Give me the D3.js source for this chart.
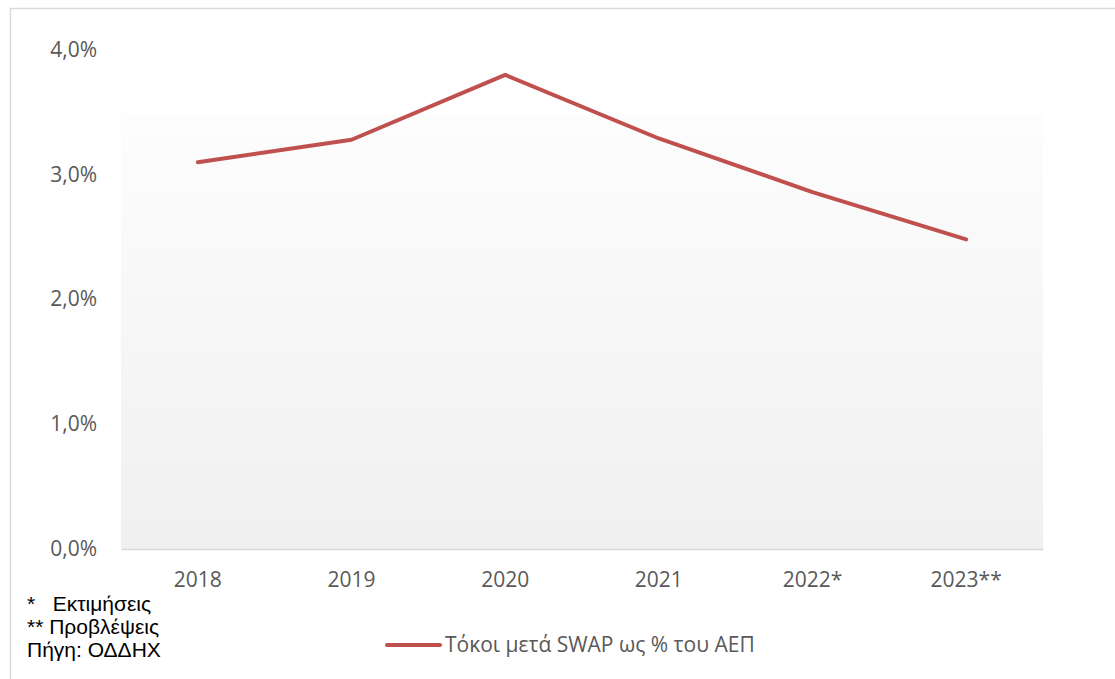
<!DOCTYPE html>
<html>
<head>
<meta charset="utf-8">
<script src="https://cdn.jsdelivr.net/npm/d3@7"></script>
<style>
  html, body { margin: 0; padding: 0; background: #fff; }
  svg { display: block; }
</style>
</head>
<body>
<svg id="chart" width="1115" height="679"></svg>
<script>
// Interest after swaps as a share of GDP
const years = ["2018", "2019", "2020", "2021", "2022*", "2023**"];
const interestPct = [3.10, 3.28, 3.80, 3.29, 2.86, 2.48];
const yTicks = [0, 1, 2, 3, 4];
const seriesName = "Τόκοι μετά SWAP ως % του ΑΕΠ";
const notes = ["*   Εκτιμήσεις", "** Προβλέψεις", "Πήγη: ΟΔΔΗΧ"];

const svg = d3.select("#chart");
const W = 1115, H = 679;

// outer frame
svg.append("rect")
  .attr("x", 10.5).attr("y", 8.5)
  .attr("width", W + 20).attr("height", H + 20)
  .attr("fill", "#fff").attr("stroke", "#d9d9d9").attr("stroke-width", 1.5);

const plot = { left: 121, right: 1043, top: 114, bottom: 549 };

const x = d3.scaleBand().domain(years).range([plot.left, plot.right]);
const y = d3.scaleLinear().domain([0, 4]).range([548.5, 50]);

// soft vertical gradient behind the plot area
const defs = svg.append("defs");
const grad = defs.append("linearGradient")
  .attr("id", "plotBg").attr("x1", 0).attr("y1", 0).attr("x2", 0).attr("y2", 1);
grad.append("stop").attr("offset", "0%").attr("stop-color", "#fdfdfd");
grad.append("stop").attr("offset", "100%").attr("stop-color", "#f0f0f0");

svg.append("rect")
  .attr("x", plot.left).attr("y", plot.top)
  .attr("width", plot.right - plot.left).attr("height", plot.bottom - plot.top)
  .attr("fill", "url(#plotBg)");

// y axis labels
const yAxis = d3.axisLeft(y)
  .tickValues(yTicks)
  .tickSize(0)
  .tickPadding(0)
  .tickFormat(d => d3.format(".1f")(d).replace(".", ",") + "%");
const gy = svg.append("g").attr("transform", "translate(97,0)").call(yAxis);
gy.select(".domain").remove();
gy.selectAll("text")
  .attr("font-family", "'Open Sans', sans-serif")
  .attr("font-size", 21)
  .attr("fill", "#595959");

// x axis
const xAxis = d3.axisBottom(x).tickSize(0).tickPadding(23);
const gx = svg.append("g").attr("transform", `translate(0,${plot.bottom})`).call(xAxis);
gx.select(".domain").attr("stroke", "#d9d9d9").attr("stroke-width", 1.5);
gx.selectAll("text")
  .attr("font-family", "'Open Sans', sans-serif")
  .attr("font-size", 21)
  .attr("fill", "#595959");

// series line
const line = d3.line()
  .x((d, i) => x(years[i]) + x.bandwidth() / 2)
  .y(d => y(d));

svg.append("path")
  .datum(interestPct)
  .attr("d", line)
  .attr("fill", "none")
  .attr("stroke", "#c0504d")
  .attr("stroke-width", 4)
  .attr("stroke-linejoin", "round")
  .attr("stroke-linecap", "round");

// legend
const lg = svg.append("g").attr("transform", "translate(387,645)");
lg.append("line")
  .attr("x1", 0).attr("x2", 53).attr("y1", 0).attr("y2", 0)
  .attr("stroke", "#c0504d").attr("stroke-width", 4).attr("stroke-linecap", "round");
lg.append("text")
  .attr("x", 58).attr("y", 0).attr("dy", "0.35em")
  .attr("font-family", "'Open Sans', sans-serif")
  .attr("font-size", 21)
  .attr("fill", "#595959")
  .text(seriesName);

// footnotes
svg.append("g")
  .selectAll("text")
  .data(notes)
  .join("text")
  .attr("x", 27)
  .attr("y", (d, i) => 611 + i * 23)
  .attr("font-family", "'Liberation Sans', Arial, sans-serif")
  .attr("font-size", 21)
  .attr("fill", "#000")
  .attr("xml:space", "preserve")
  .style("white-space", "pre")
  .text(d => d);
</script>
</body>
</html>
